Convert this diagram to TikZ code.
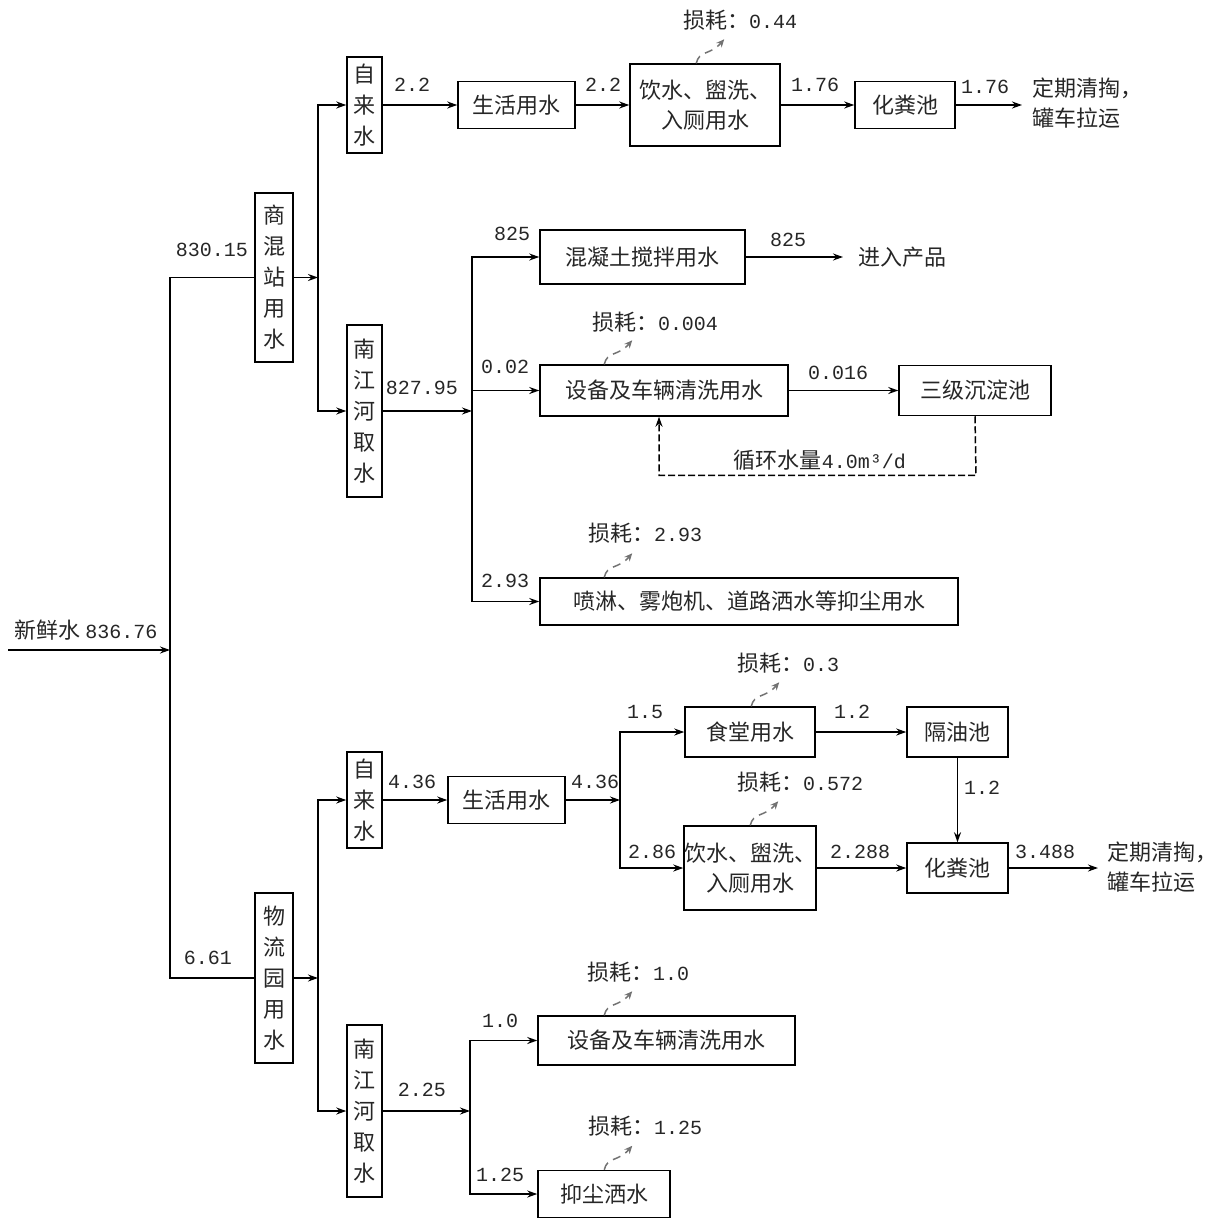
\documentclass[tikz,border=0pt]{standalone}
\usepackage{fontspec}
\setmainfont{Noto Sans CJK SC}
\newfontfamily\numf{Liberation Mono}
\usetikzlibrary{arrows.meta,calc}
\newcommand\lossarr[2]{\coordinate (#1) at (#2);
  \draw[loss] (#1) .. controls ($(#1)+(3,-13)$) and ($(#1)+(14,-8)$) .. ($(#1)+(28,-24)$);}
\begin{document}
\begin{tikzpicture}[x=1pt,y=-1pt,
  every node/.style={font=\fontsize{22}{30}\selectfont, text=black!85},
  box/.style={draw, line width=1.5pt, inner sep=0pt, align=center},
  vbox/.style={box, font=\fontsize{22}{31}\selectfont, minimum width=35pt},
  ln/.style={line width=1.5pt},
  arr/.style={ln, -{Stealth[length=10pt,width=7pt]}},
  lbl/.style={font=\fontsize{20}{24}\selectfont\numf, inner sep=0pt},
  txt/.style={inner sep=0pt},
  loss/.style={draw=black!55, line width=1.5pt, dash pattern=on 8pt off 6pt, -{Stealth[length=8pt,width=7pt]}},
]
\useasboundingbox (0,0) rectangle (1219,1219);

% ---------- left trunk ----------
\coordinate (s0) at (8,650);
\coordinate (t0) at (170,650);
\draw[arr] (s0) -- (t0);
\node[txt] (lin) at (86,630) {新鲜水 {\numf\fontsize{20}{24}\selectfont 836.76}};

\node[vbox, minimum width=38pt, minimum height=169pt] (smz) at (274,277.5) {商\\混\\站\\用\\水};
\node[vbox, minimum width=38pt, minimum height=170pt] (wly) at (274,978) {物\\流\\园\\用\\水};
\draw[ln] (t0) |- (smz.west);
\draw[ln] (t0) |- (wly.west);
\node[lbl] (l830) at (212,250) {830.15};
\node[lbl] (l661) at (208,958) {6.61};

% ---------- upper part ----------
\coordinate (b1) at (318,277.5);
\node[vbox, minimum height=96pt] (zls1) at (364.5,105) {自\\来\\水};
\node[vbox, minimum height=172pt] (njh1) at (364.5,411) {南\\江\\河\\取\\水};
\draw[arr] (smz.east) -- (b1);
\draw[arr] (b1) |- (zls1.west);
\draw[arr] (b1) |- (njh1.west);

\node[box, minimum width=117pt, minimum height=47pt] (shy1) at (516.5,105) {生活用水};
\node[box, minimum width=150pt, minimum height=82pt] (ys1) at (705,105) {饮水、盥洗、\\入厕用水};
\node[box, minimum width=100pt, minimum height=47pt] (hfc1) at (905,105) {化粪池};
\coordinate (e1) at (1022,105);
\node[txt, anchor=west, align=left] (out1) at (1032,103) {定期清掏，\\罐车拉运};
\draw[arr] (zls1.east) -- (shy1.west);
\draw[arr] (shy1.east) -- (ys1.west);
\draw[arr] (ys1.east) -- (hfc1.west);
\draw[arr] (hfc1.east) -- (e1);
\node[lbl] (la1) at (412,85) {2.2};
\node[lbl] (la2) at (603,85) {2.2};
\node[lbl] (la3) at (815,85) {1.76};
\node[lbl] (la4) at (985,87) {1.76};
\node[txt] (ls1) at (740,20) {损耗：{\numf\fontsize{20}{24}\selectfont 0.44}};
\lossarr{p1}{$(ys1.north west)+(67,0)$}

\coordinate (b2) at (472,411);
\draw[arr] (njh1.east) -- (b2);
\node[lbl] (lb0) at (422,388) {827.95};
\node[box, minimum width=205pt, minimum height=54pt] (hnt) at (642.5,257) {混凝土搅拌用水};
\node[box, minimum width=248pt, minimum height=51pt] (sb1) at (664,390.5) {设备及车辆清洗用水};
\node[box, minimum width=418pt, minimum height=47pt] (pl) at (749,601.5) {喷淋、雾炮机、道路洒水等抑尘用水};
\draw[arr] (b2) |- (hnt.west);
\draw[arr] (b2) |- (sb1.west);
\draw[arr] (b2) |- (pl.west);
\node[lbl] (lb1) at (512,234) {825};
\node[lbl] (lb2) at (505,367) {0.02};
\node[lbl] (lb3) at (505,581) {2.93};
\coordinate (e2) at (843,257);
\draw[arr] (hnt.east) -- (e2);
\node[lbl] (lb4) at (788,240) {825};
\node[txt] (prod) at (902,257) {进入产品};
\node[box, minimum width=152pt, minimum height=50pt] (sj) at (975,390.5) {三级沉淀池};
\draw[arr] (sb1.east) -- (sj.west);
\node[lbl] (lb5) at (838,373) {0.016};
\coordinate (c1) at ($(sj.south)+(1,59)$);
\coordinate (c2) at ($(sb1.south)+(-5,0)$);
\draw[ln, dash pattern=on 7pt off 3pt, -{Stealth[length=10pt,width=7pt]}] (sj.south) -- (c1) -| (c2);
\node[txt] (loop) at (820,460) {循环水量{\numf\fontsize{20}{24}\selectfont 4.0m³/d}};
\node[txt] (ls2) at (655,322) {损耗：{\numf\fontsize{20}{24}\selectfont 0.004}};
\lossarr{p2}{$(sb1.north west)+(65,0)$}
\node[txt] (ls3) at (645,533) {损耗：{\numf\fontsize{20}{24}\selectfont 2.93}};
\lossarr{p3}{$(pl.north west)+(65,0)$}

% ---------- lower part ----------
\coordinate (b3) at (318,978);
\node[vbox, minimum height=96pt] (zls2) at (364.5,800) {自\\来\\水};
\node[vbox, minimum height=172pt] (njh2) at (364.5,1111) {南\\江\\河\\取\\水};
\draw[arr] (wly.east) -- (b3);
\draw[arr] (b3) |- (zls2.west);
\draw[arr] (b3) |- (njh2.west);

\node[box, minimum width=117pt, minimum height=47pt] (shy2) at (506.5,800) {生活用水};
\draw[arr] (zls2.east) -- (shy2.west);
\node[lbl] (lc1) at (412,782) {4.36};
\coordinate (b4) at (620,800);
\draw[arr] (shy2.east) -- (b4);
\node[lbl] (lc2) at (595,782) {4.36};
\node[box, minimum width=130pt, minimum height=50pt] (st) at (750,732) {食堂用水};
\node[box, minimum width=130pt, minimum height=84pt] (ys2) at (750,868) {饮水、盥洗、\\入厕用水};
\draw[arr] (b4) |- (st.west);
\draw[arr] (b4) |- (ys2.west);
\node[lbl] (lc3) at (645,712) {1.5};
\node[lbl] (lc4) at (652,852) {2.86};
\node[box, minimum width=101pt, minimum height=50pt] (gy) at (957.5,732) {隔油池};
\node[box, minimum width=101pt, minimum height=50pt] (hfc2) at (957.5,868) {化粪池};
\draw[arr] (st.east) -- (gy.west);
\draw[arr] (gy.south) -- (hfc2.north);
\draw[arr] (ys2.east) -- (hfc2.west);
\node[lbl] (lc5) at (852,712) {1.2};
\node[lbl] (lc6) at (982,788) {1.2};
\node[lbl] (lc7) at (860,852) {2.288};
\coordinate (e3) at (1098,868);
\draw[arr] (hfc2.east) -- (e3);
\node[lbl] (lc8) at (1045,852) {3.488};
\node[txt, anchor=west, align=left] (out2) at (1107,867) {定期清掏，\\罐车拉运};
\node[txt] (ls4) at (788,663) {损耗：{\numf\fontsize{20}{24}\selectfont 0.3}};
\lossarr{p4}{$(st.north west)+(67,0)$}
\node[txt] (ls5) at (800,782) {损耗：{\numf\fontsize{20}{24}\selectfont 0.572}};
\lossarr{p5}{$(ys2.north west)+(67,0)$}

\coordinate (b5) at (470,1111);
\draw[arr] (njh2.east) -- (b5);
\node[lbl] (ld1) at (422,1090) {2.25};
\node[box, minimum width=257pt, minimum height=49pt] (sb2) at (666.5,1040.5) {设备及车辆清洗用水};
\node[box, minimum width=132pt, minimum height=47pt] (yc) at (604,1194) {抑尘洒水};
\draw[arr] (b5) |- (sb2.west);
\draw[arr] (b5) |- (yc.west);
\node[lbl] (ld2) at (500,1021) {1.0};
\node[lbl] (ld3) at (500,1175) {1.25};
\node[txt] (ls6) at (638,972) {损耗：{\numf\fontsize{20}{24}\selectfont 1.0}};
\lossarr{p6}{$(sb2.north west)+(67,0)$}
\node[txt] (ls7) at (645,1126) {损耗：{\numf\fontsize{20}{24}\selectfont 1.25}};
\lossarr{p7}{$(yc.north west)+(67,0)$}
\end{tikzpicture}
\end{document}
